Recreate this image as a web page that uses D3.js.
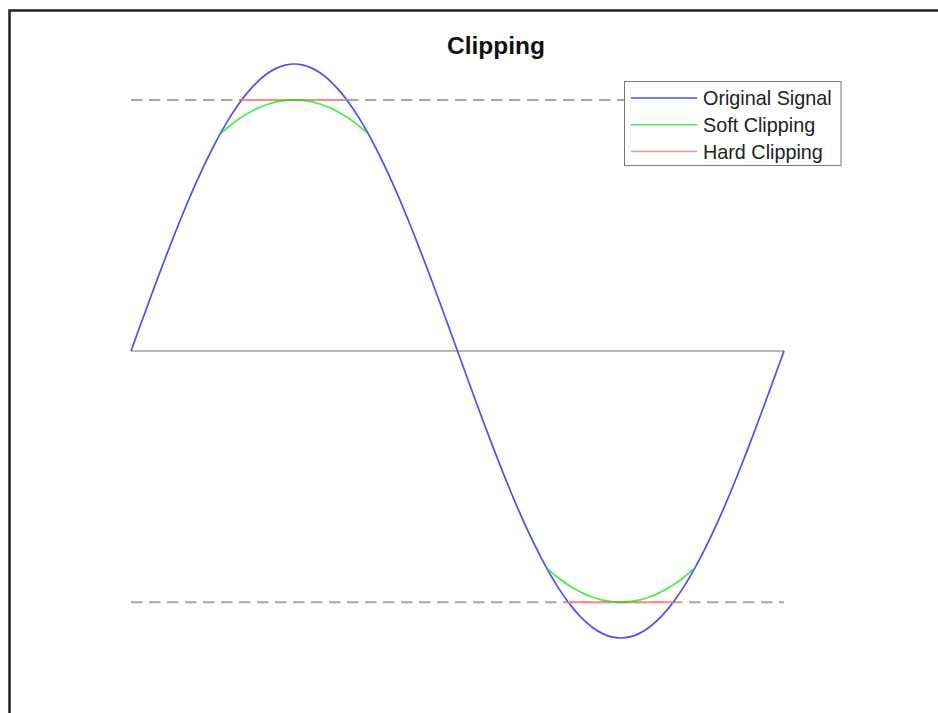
<!DOCTYPE html>
<html>
<head>
<meta charset="utf-8">
<script src="https://cdn.jsdelivr.net/npm/d3@7/dist/d3.min.js"></script>
<style>
html,body{margin:0;padding:0;background:#fff;}
svg{display:block;}
</style>
</head>
<body>
<svg id="chart" width="938" height="713"></svg>
<script>
// ---- data ----
const title = "Clipping";
const seriesNames = ["Original Signal", "Soft Clipping", "Hard Clipping"];
const phase = [0,5,10,15,20,25,30,35,40,45,50,55,60,65,70,75,80,85,90,95,100,105,110,115,120,125,130,135,140,145,150,155,160,165,170,175,180,185,190,195,200,205,210,215,220,225,230,235,240,245,250,255,260,265,270,275,280,285,290,295,300,305,310,315,320,325,330,335,340,345,350,355,360];
const originalSignal = [0,0.0872,0.1736,0.2588,0.3420,0.4226,0.5,0.5736,0.6428,0.7071,0.7660,0.8192,0.8660,0.9063,0.9397,0.9659,0.9848,0.9962,1,0.9962,0.9848,0.9659,0.9397,0.9063,0.8660,0.8192,0.7660,0.7071,0.6428,0.5736,0.5,0.4226,0.3420,0.2588,0.1736,0.0872,0,-0.0872,-0.1736,-0.2588,-0.3420,-0.4226,-0.5,-0.5736,-0.6428,-0.7071,-0.7660,-0.8192,-0.8660,-0.9063,-0.9397,-0.9659,-0.9848,-0.9962,-1,-0.9962,-0.9848,-0.9659,-0.9397,-0.9063,-0.8660,-0.8192,-0.7660,-0.7071,-0.6428,-0.5736,-0.5,-0.4226,-0.3420,-0.2588,-0.1736,-0.0872,0];
const softPhaseTop = [49,50,55,60,65,70,75,80,85,90,95,100,105,110,115,120,125,130,131];
const softTop = [0.755,0.7608,0.7875,0.8107,0.8304,0.8464,0.8589,0.8679,0.8732,0.875,0.8732,0.8679,0.8589,0.8464,0.8304,0.8107,0.7875,0.7608,0.755];
const softPhaseBottom = [229,230,235,240,245,250,255,260,265,270,275,280,285,290,295,300,305,310,311];
const softBottom = [-0.755,-0.7608,-0.7875,-0.8107,-0.8304,-0.8464,-0.8589,-0.8679,-0.8732,-0.875,-0.8732,-0.8679,-0.8589,-0.8464,-0.8304,-0.8107,-0.7875,-0.7608,-0.755];
const hardPhaseTop = [61, 119];
const hardTop = [0.875, 0.875];
const hardPhaseBottom = [241, 299];
const hardBottom = [-0.875, -0.875];
const clipLevels = [0.875, -0.875];

// ---- drawing ----
const svg = d3.select("#chart");
const x = d3.scaleLinear().domain([0, 360]).range([131, 784]);
const y = d3.scaleLinear().domain([-1, 1]).range([638, 64]);

// frame
svg.append("path")
  .attr("d", "M9.5,720 L9.5,10.5 L945,10.5")
  .attr("fill", "none").attr("stroke", "#222").attr("stroke-width", 2.5);

// title
svg.append("text").attr("x", 496).attr("y", 53.5)
  .attr("text-anchor", "middle")
  .attr("font-family", "'Liberation Sans', Arial, Helvetica, sans-serif")
  .attr("font-weight", "bold").attr("font-size", 24.5).attr("fill", "#111")
  .text(title);

// zero line
svg.append("line")
  .attr("x1", x(0)).attr("x2", x(360)).attr("y1", y(0)).attr("y2", y(0))
  .attr("stroke", "#b8b8b8").attr("stroke-width", 2);

// threshold dashed lines
svg.selectAll("line.clip").data(clipLevels).enter().append("line")
  .attr("class", "clip")
  .attr("x1", x(0)).attr("x2", x(360))
  .attr("y1", d => y(d)).attr("y2", d => y(d))
  .attr("stroke", "#a8a8a8").attr("stroke-width", 2)
  .attr("stroke-dasharray", "11.5,6.5");

const colors = ["#4d4dff", "rgba(0,230,0,0.7)", "#ff8888"];

const lineNatural = d3.line().x(d => x(d[0])).y(d => y(d[1])).curve(d3.curveNatural);
const lineLin = d3.line().x(d => x(d[0])).y(d => y(d[1]));

svg.append("path").datum(d3.zip(phase, originalSignal))
  .attr("d", lineNatural).attr("fill", "none")
  .attr("stroke", colors[0]).attr("stroke-width", 1.7);

[d3.zip(hardPhaseTop, hardTop), d3.zip(hardPhaseBottom, hardBottom)].forEach(seg => {
  svg.append("path").datum(seg).attr("d", lineLin).attr("fill", "none")
    .attr("stroke", colors[2]).attr("stroke-width", 2);
});

[d3.zip(softPhaseTop, softTop), d3.zip(softPhaseBottom, softBottom)].forEach(seg => {
  svg.append("path").datum(seg).attr("d", lineNatural).attr("fill", "none")
    .attr("stroke", colors[1]).attr("stroke-width", 1.8);
});

// legend
const lg = svg.append("g");
lg.append("rect").attr("x", 624.5).attr("y", 81.5).attr("width", 216.5).attr("height", 84)
  .attr("fill", "#fff").attr("stroke", "#777").attr("stroke-width", 1);
seriesNames.forEach((name, i) => {
  const yy = 98 + i * 26.8;
  lg.append("line").attr("x1", 631).attr("x2", 697).attr("y1", yy).attr("y2", yy)
    .attr("stroke", colors[i]).attr("stroke-width", 1.5);
  lg.append("text").attr("x", 703).attr("y", yy + 7.3)
    .attr("font-family", "'Liberation Sans', Arial, Helvetica, sans-serif")
    .attr("font-size", 19.8).attr("fill", "#222").text(name);
});
</script>
</body>
</html>
